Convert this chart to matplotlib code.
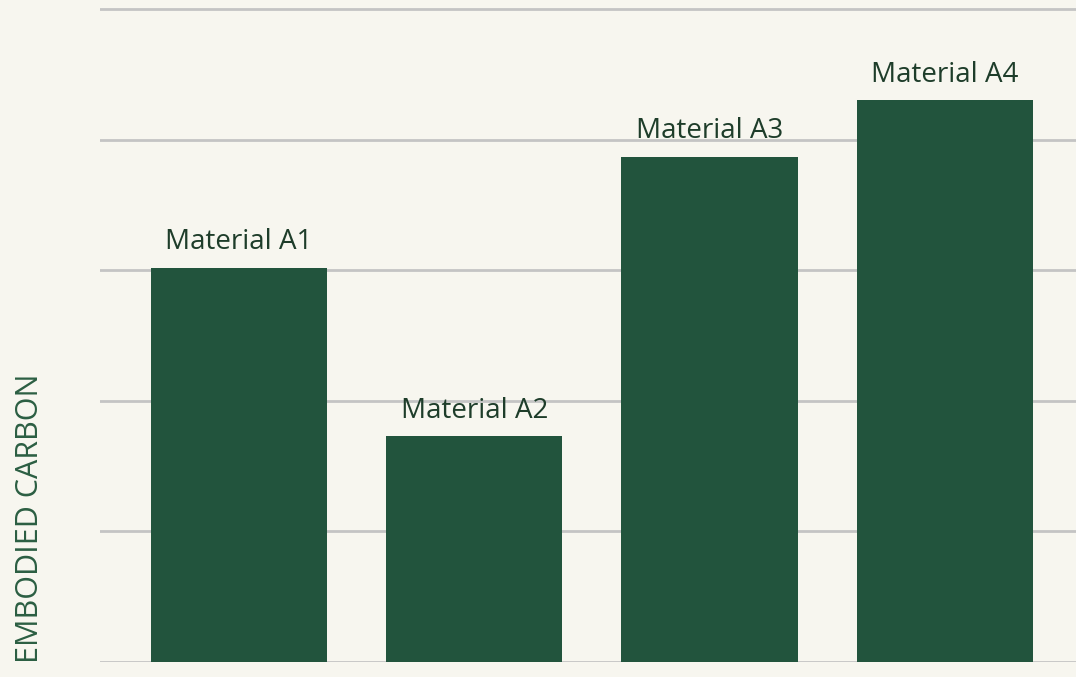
from matplotlib import pyplot as plt
import numpy as np

materials = ["Material A1", "Material A2", "Material A3", "Material A4"]
carbon = [3.02, 1.73, 3.87, 4.30]

bg = "#F7F6EF"
bar_col = "#22543D"
txt_col = "#1E3D2A"

plt.rcParams['font.family'] = ['Open Sans', 'DejaVu Sans']

fig = plt.figure(figsize=(10.76, 6.77), dpi=100, facecolor=bg)
top = 5.05
ax = fig.add_axes([100/1076, 15/677, 976/1076, (653*top/5)/677], facecolor=bg)

x = np.arange(len(materials))
bars = ax.bar(x, carbon, width=0.75, color=bar_col, zorder=3)

for xi, v, name in zip(x, carbon, materials):
    ax.annotate(name, (xi, v), xytext=(0, 8), textcoords='offset points',
                ha='center', va='bottom', fontsize=20, color=txt_col)

ax.set_xlim(-0.59, 3.557)
ax.set_ylim(0, top)
ax.set_yticks(np.arange(0, 6, 1))
ax.yaxis.grid(True, color="#C4C4C4", linewidth=2, zorder=0)
ax.set_axisbelow(True)
ax.tick_params(left=False, bottom=False, labelleft=False, labelbottom=False)
for sp in ax.spines.values():
    sp.set_visible(False)

fig.text(30/1076, 1 - 518/677, "EMBODIED CARBON", rotation=90, ha='center', va='center',
         fontsize=22, color="#2B5E42")

fig.savefig("out.png", dpi=100, facecolor=bg)
